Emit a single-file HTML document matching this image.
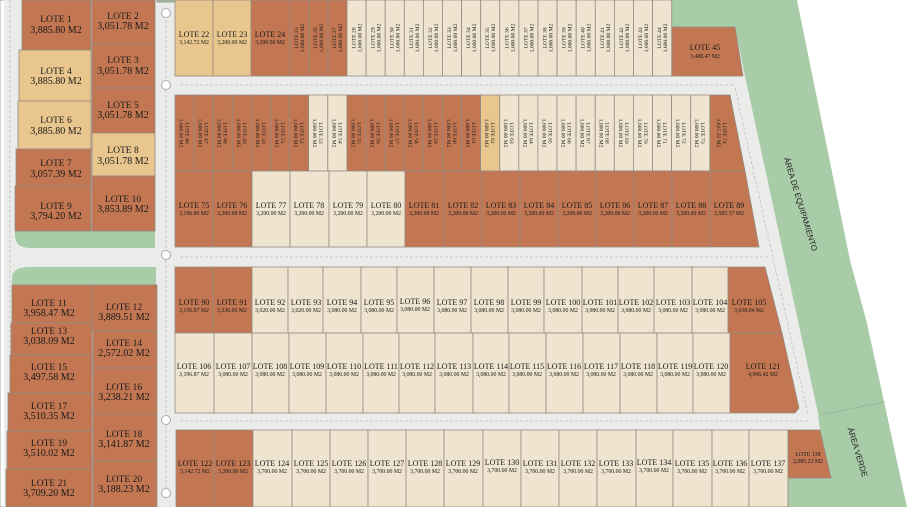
<!DOCTYPE html>
<html><head><meta charset="utf-8"><style>
html,body{margin:0;padding:0;background:#fff}
svg{display:block}
.T{fill:#c27752}.Y{fill:#e8c68d}.C{fill:#efe4cf}
rect,polygon.l{stroke:#958b82;stroke-width:.8}
text{font-family:"Liberation Serif",serif;fill:#1a1a1a;text-anchor:middle}
.b{font-size:9.5px}.bs{font-size:10px}
.n{font-size:8px}.a{font-size:5.8px}
.v{font-size:5.6px}
</style></head><body>
<svg width="923" height="507" viewBox="0 0 923 507" xmlns="http://www.w3.org/2000/svg">
<rect x="0" y="0" width="923" height="507" fill="#fff" stroke="none"/>
<polygon points="4,0 850,0 850,507 4,507" fill="#ebebe9"/>
<polygon points="672,0 797,0 850,260 867,323 907,507 788,507 788,430 820,430 818,413 745,76 735,27 672,27" fill="#a8cba8"/>
<polygon points="797,0 923,0 923,507 907,507 867,323 850,260" fill="#fff"/>
<!-- dashed road lines -->
<g stroke="#bdbdbb" stroke-width=".8" stroke-dasharray="3,2" fill="none">
<line x1="180" y1="85" x2="735" y2="85"/><line x1="180" y1="257" x2="770" y2="257"/><line x1="180" y1="421" x2="810" y2="421"/>
<line x1="166" y1="20" x2="166" y2="500"/><line x1="10" y1="0" x2="10" y2="507"/>
<line x1="735" y1="88" x2="808" y2="415"/>
</g>
<!-- greens left -->
<path d="M15,231 H155 V248 H30 Q15,248 15,235 Z" fill="#a8cba8"/>
<path d="M12,285 V278 Q12,267 30,267 H156 V285 Z" fill="#a8cba8"/>
<path d="M175,0 H160 V0 Z" fill="#a8cba8"/>
<rect x="157" y="0" width="18" height="2" fill="#a8cba8" stroke="none"/>
<!-- roundabouts -->
<g fill="#fff" stroke="#aaa" stroke-width="1">
<circle cx="166" cy="13" r="4.5"/><circle cx="166" cy="85" r="4.5"/><circle cx="166" cy="255" r="4.5"/><circle cx="166" cy="420" r="4.5"/><circle cx="166" cy="493" r="4.5"/>
</g>
<!-- LEFT COLUMN -->
<g>
<rect class="T" x="22" y="0" width="69" height="50"/><text class="b" x="56" y="22">LOTE 1</text><text class="bs" x="56" y="33">3,885.80 M2</text>
<rect class="T" x="92" y="0" width="63" height="44"/><text class="b" x="123" y="19">LOTE 2</text><text class="bs" x="123" y="29">3,051.78 M2</text>
<rect class="T" x="92" y="44" width="63" height="44"/><text class="b" x="123" y="63">LOTE 3</text><text class="bs" x="123" y="74">3,051.78 M2</text>
<rect class="Y" x="19" y="50" width="72" height="51"/><text class="b" x="56" y="74">LOTE 4</text><text class="bs" x="56" y="84">3,885.80 M2</text>
<rect class="T" x="92" y="88" width="63" height="45"/><text class="b" x="123" y="108">LOTE 5</text><text class="bs" x="123" y="118">3,051.78 M2</text>
<rect class="Y" x="18" y="101" width="73" height="48"/><text class="b" x="56" y="123">LOTE 6</text><text class="bs" x="56" y="134">3,885.80 M2</text>
<rect class="Y" x="92" y="133" width="63" height="43"/><text class="b" x="123" y="153">LOTE 8</text><text class="bs" x="123" y="164">3,051.78 M2</text>
<rect class="T" x="16" y="149" width="75" height="37"/><text class="b" x="56" y="166">LOTE 7</text><text class="bs" x="56" y="177">3,057.39 M2</text>
<rect class="T" x="15" y="186" width="76" height="45"/><text class="b" x="56" y="209">LOTE 9</text><text class="bs" x="56" y="219">3,794.20 M2</text>
<rect class="T" x="92" y="176" width="63" height="55"/><text class="b" x="123" y="202">LOTE 10</text><text class="bs" x="123" y="212">3,853.89 M2</text>

<rect class="T" x="12" y="285" width="80" height="38"/><text class="b" x="49" y="306">LOTE 11</text><text class="bs" x="49" y="316">3,958.47 M2</text>
<rect class="T" x="92" y="285" width="65" height="46"/><text class="b" x="124" y="310">LOTE 12</text><text class="bs" x="124" y="320">3,889.51 M2</text>
<rect class="T" x="11" y="323" width="81" height="32"/><text class="b" x="49" y="334">LOTE 13</text><text class="bs" x="49" y="344">3,038.09 M2</text>
<rect class="T" x="93" y="331" width="64" height="37"/><text class="b" x="124" y="346">LOTE 14</text><text class="bs" x="124" y="356">2,572.02 M2</text>
<rect class="T" x="10" y="355" width="82" height="38"/><text class="b" x="49" y="370">LOTE 15</text><text class="bs" x="49" y="380">3,497.58 M2</text>
<rect class="T" x="93" y="368" width="64" height="46"/><text class="b" x="124" y="390">LOTE 16</text><text class="bs" x="124" y="400">3,238.21 M2</text>
<rect class="T" x="8" y="393" width="84" height="38"/><text class="b" x="49" y="409">LOTE 17</text><text class="bs" x="49" y="419">3,510.35 M2</text>
<rect class="T" x="93" y="414" width="64" height="47"/><text class="b" x="124" y="437">LOTE 18</text><text class="bs" x="124" y="447">3,141.87 M2</text>
<rect class="T" x="7" y="431" width="85" height="38"/><text class="b" x="49" y="446">LOTE 19</text><text class="bs" x="49" y="456">3,510.02 M2</text>
<rect class="T" x="93" y="461" width="64" height="46"/><text class="b" x="124" y="482">LOTE 20</text><text class="bs" x="124" y="492">3,188.23 M2</text>
<rect class="T" x="6" y="469" width="86" height="38"/><text class="b" x="49" y="486">LOTE 21</text><text class="bs" x="49" y="496">3,709.20 M2</text>
</g>
<!-- TOP ROW -->
<g>
<rect class="Y" x="175" y="0" width="38" height="76"/><text class="n" x="194" y="37">LOTE 22</text><text class="a" x="194" y="44">3,142.72 M2</text>
<rect class="Y" x="213" y="0" width="38" height="76"/><text class="n" x="232" y="37">LOTE 23</text><text class="a" x="232" y="44">3,200.00 M2</text>
<rect class="T" x="251" y="0" width="39" height="76"/><text class="n" x="270" y="37">LOTE 24</text><text class="a" x="270" y="44">3,200.00 M2</text>
<rect class="T" x="290" y="0" width="19" height="76"/><rect class="T" x="309" y="0" width="19" height="76"/><rect class="T" x="328" y="0" width="19" height="76"/>
<rect class="C" x="347" y="0" width="19.1" height="76"/><rect class="C" x="366.1" y="0" width="19.1" height="76"/><rect class="C" x="385.2" y="0" width="19.1" height="76"/><rect class="C" x="404.3" y="0" width="19.1" height="76"/><rect class="C" x="423.4" y="0" width="19.1" height="76"/><rect class="C" x="442.5" y="0" width="19.1" height="76"/><rect class="C" x="461.6" y="0" width="19.1" height="76"/><rect class="C" x="480.7" y="0" width="19.1" height="76"/><rect class="C" x="499.8" y="0" width="19.1" height="76"/><rect class="C" x="518.9" y="0" width="19.1" height="76"/><rect class="C" x="538" y="0" width="19.1" height="76"/><rect class="C" x="557.1" y="0" width="19.1" height="76"/><rect class="C" x="576.2" y="0" width="19.1" height="76"/><rect class="C" x="595.3" y="0" width="19.1" height="76"/><rect class="C" x="614.4" y="0" width="19.1" height="76"/><rect class="C" x="633.5" y="0" width="19.1" height="76"/><rect class="C" x="652.6" y="0" width="19.1" height="76"/>
<polygon class="T l" points="672,27 735,27 743,76 672,76"/><text class="n" x="705" y="50">LOTE 45</text><text class="a" x="705" y="58">3,488.47 M2</text>
</g>
<g class="v">
<text transform="translate(299,38) rotate(-90)"><tspan x="0" y="-1">LOTE 25</tspan><tspan x="0" y="5">1,600.00 M2</tspan></text>
<text transform="translate(318,38) rotate(-90)"><tspan x="0" y="-1">LOTE 26</tspan><tspan x="0" y="5">1,600.00 M2</tspan></text>
<text transform="translate(337,38) rotate(-90)"><tspan x="0" y="-1">LOTE 27</tspan><tspan x="0" y="5">1,600.00 M2</tspan></text>
<text transform="translate(356.5,38) rotate(-90)"><tspan x="0" y="-1">LOTE 28</tspan><tspan x="0" y="5">1,600.00 M2</tspan></text>
<text transform="translate(375.6,38) rotate(-90)"><tspan x="0" y="-1">LOTE 29</tspan><tspan x="0" y="5">1,600.00 M2</tspan></text>
<text transform="translate(394.7,38) rotate(-90)"><tspan x="0" y="-1">LOTE 30</tspan><tspan x="0" y="5">1,600.00 M2</tspan></text>
<text transform="translate(413.8,38) rotate(-90)"><tspan x="0" y="-1">LOTE 31</tspan><tspan x="0" y="5">1,600.00 M2</tspan></text>
<text transform="translate(432.9,38) rotate(-90)"><tspan x="0" y="-1">LOTE 32</tspan><tspan x="0" y="5">1,600.00 M2</tspan></text>
<text transform="translate(452,38) rotate(-90)"><tspan x="0" y="-1">LOTE 33</tspan><tspan x="0" y="5">1,600.00 M2</tspan></text>
<text transform="translate(471.1,38) rotate(-90)"><tspan x="0" y="-1">LOTE 34</tspan><tspan x="0" y="5">1,600.00 M2</tspan></text>
<text transform="translate(490.2,38) rotate(-90)"><tspan x="0" y="-1">LOTE 35</tspan><tspan x="0" y="5">1,600.00 M2</tspan></text>
<text transform="translate(509.3,38) rotate(-90)"><tspan x="0" y="-1">LOTE 36</tspan><tspan x="0" y="5">1,600.00 M2</tspan></text>
<text transform="translate(528.4,38) rotate(-90)"><tspan x="0" y="-1">LOTE 37</tspan><tspan x="0" y="5">1,600.00 M2</tspan></text>
<text transform="translate(547.5,38) rotate(-90)"><tspan x="0" y="-1">LOTE 38</tspan><tspan x="0" y="5">1,600.00 M2</tspan></text>
<text transform="translate(566.6,38) rotate(-90)"><tspan x="0" y="-1">LOTE 39</tspan><tspan x="0" y="5">1,600.00 M2</tspan></text>
<text transform="translate(585.7,38) rotate(-90)"><tspan x="0" y="-1">LOTE 40</tspan><tspan x="0" y="5">1,600.00 M2</tspan></text>
<text transform="translate(604.8,38) rotate(-90)"><tspan x="0" y="-1">LOTE 41</tspan><tspan x="0" y="5">1,600.00 M2</tspan></text>
<text transform="translate(623.9,38) rotate(-90)"><tspan x="0" y="-1">LOTE 42</tspan><tspan x="0" y="5">1,600.00 M2</tspan></text>
<text transform="translate(643,38) rotate(-90)"><tspan x="0" y="-1">LOTE 43</tspan><tspan x="0" y="5">1,600.00 M2</tspan></text>
<text transform="translate(662.1,38) rotate(-90)"><tspan x="0" y="-1">LOTE 44</tspan><tspan x="0" y="5">1,600.00 M2</tspan></text>
</g>
<!-- BLOCK 2 upper -->
<g>
<rect class="T" x="175" y="95" width="19.1" height="76"/><rect class="T" x="194.1" y="95" width="19.1" height="76"/><rect class="T" x="213.2" y="95" width="19.1" height="76"/><rect class="T" x="232.3" y="95" width="19.1" height="76"/><rect class="T" x="251.4" y="95" width="19.1" height="76"/><rect class="T" x="270.5" y="95" width="19.1" height="76"/><rect class="T" x="289.6" y="95" width="19.1" height="76"/>
<rect class="C" x="308.7" y="95" width="19.1" height="76"/><rect class="C" x="327.8" y="95" width="19.1" height="76"/>
<rect class="T" x="346.9" y="95" width="19.1" height="76"/><rect class="T" x="366" y="95" width="19.1" height="76"/><rect class="T" x="385.1" y="95" width="19.1" height="76"/><rect class="T" x="404.2" y="95" width="19.1" height="76"/><rect class="T" x="423.3" y="95" width="19.1" height="76"/><rect class="T" x="442.4" y="95" width="19.1" height="76"/><rect class="T" x="461.5" y="95" width="19.1" height="76"/>
<rect class="Y" x="480.6" y="95" width="19.1" height="76"/>
<rect class="C" x="499.7" y="95" width="19.1" height="76"/><rect class="C" x="518.8" y="95" width="19.1" height="76"/><rect class="C" x="537.9" y="95" width="19.1" height="76"/><rect class="C" x="557" y="95" width="19.1" height="76"/><rect class="C" x="576.1" y="95" width="19.1" height="76"/><rect class="C" x="595.2" y="95" width="19.1" height="76"/><rect class="C" x="614.3" y="95" width="19.1" height="76"/><rect class="C" x="633.4" y="95" width="19.1" height="76"/><rect class="C" x="652.5" y="95" width="19.1" height="76"/><rect class="C" x="671.6" y="95" width="19.1" height="76"/><rect class="C" x="690.7" y="95" width="19.1" height="76"/>
<polygon class="T l" points="710,95 730,95 745,171 710,171"/>
</g>
<g class="v">
<text transform="translate(184.5,133) rotate(90)"><tspan x="0" y="-1">LOTE 46</tspan><tspan x="0" y="5">1,600.00 M2</tspan></text>
<text transform="translate(203.6,133) rotate(90)"><tspan x="0" y="-1">LOTE 47</tspan><tspan x="0" y="5">1,600.00 M2</tspan></text>
<text transform="translate(222.7,133) rotate(90)"><tspan x="0" y="-1">LOTE 48</tspan><tspan x="0" y="5">1,600.00 M2</tspan></text>
<text transform="translate(241.8,133) rotate(90)"><tspan x="0" y="-1">LOTE 49</tspan><tspan x="0" y="5">1,600.00 M2</tspan></text>
<text transform="translate(260.9,133) rotate(90)"><tspan x="0" y="-1">LOTE 50</tspan><tspan x="0" y="5">1,600.00 M2</tspan></text>
<text transform="translate(280,133) rotate(90)"><tspan x="0" y="-1">LOTE 51</tspan><tspan x="0" y="5">1,600.00 M2</tspan></text>
<text transform="translate(299.1,133) rotate(90)"><tspan x="0" y="-1">LOTE 52</tspan><tspan x="0" y="5">1,600.00 M2</tspan></text>
<text transform="translate(318.2,133) rotate(90)"><tspan x="0" y="-1">LOTE 53</tspan><tspan x="0" y="5">1,600.00 M2</tspan></text>
<text transform="translate(337.3,133) rotate(90)"><tspan x="0" y="-1">LOTE 54</tspan><tspan x="0" y="5">1,600.00 M2</tspan></text>
<text transform="translate(356.4,133) rotate(90)"><tspan x="0" y="-1">LOTE 55</tspan><tspan x="0" y="5">1,600.00 M2</tspan></text>
<text transform="translate(375.5,133) rotate(90)"><tspan x="0" y="-1">LOTE 56</tspan><tspan x="0" y="5">1,600.00 M2</tspan></text>
<text transform="translate(394.6,133) rotate(90)"><tspan x="0" y="-1">LOTE 57</tspan><tspan x="0" y="5">1,600.00 M2</tspan></text>
<text transform="translate(413.7,133) rotate(90)"><tspan x="0" y="-1">LOTE 58</tspan><tspan x="0" y="5">1,600.00 M2</tspan></text>
<text transform="translate(432.8,133) rotate(90)"><tspan x="0" y="-1">LOTE 59</tspan><tspan x="0" y="5">1,600.00 M2</tspan></text>
<text transform="translate(451.9,133) rotate(90)"><tspan x="0" y="-1">LOTE 60</tspan><tspan x="0" y="5">1,600.00 M2</tspan></text>
<text transform="translate(471,133) rotate(90)"><tspan x="0" y="-1">LOTE 61</tspan><tspan x="0" y="5">1,600.00 M2</tspan></text>
<text transform="translate(490.1,133) rotate(90)"><tspan x="0" y="-1">LOTE 62</tspan><tspan x="0" y="5">1,600.00 M2</tspan></text>
<text transform="translate(509.2,133) rotate(90)"><tspan x="0" y="-1">LOTE 63</tspan><tspan x="0" y="5">1,600.00 M2</tspan></text>
<text transform="translate(528.3,133) rotate(90)"><tspan x="0" y="-1">LOTE 64</tspan><tspan x="0" y="5">1,600.00 M2</tspan></text>
<text transform="translate(547.4,133) rotate(90)"><tspan x="0" y="-1">LOTE 65</tspan><tspan x="0" y="5">1,600.00 M2</tspan></text>
<text transform="translate(566.5,133) rotate(90)"><tspan x="0" y="-1">LOTE 66</tspan><tspan x="0" y="5">1,600.00 M2</tspan></text>
<text transform="translate(585.6,133) rotate(90)"><tspan x="0" y="-1">LOTE 67</tspan><tspan x="0" y="5">1,600.00 M2</tspan></text>
<text transform="translate(604.7,133) rotate(90)"><tspan x="0" y="-1">LOTE 68</tspan><tspan x="0" y="5">1,600.00 M2</tspan></text>
<text transform="translate(623.8,133) rotate(90)"><tspan x="0" y="-1">LOTE 69</tspan><tspan x="0" y="5">1,600.00 M2</tspan></text>
<text transform="translate(642.9,133) rotate(90)"><tspan x="0" y="-1">LOTE 70</tspan><tspan x="0" y="5">1,600.00 M2</tspan></text>
<text transform="translate(662,133) rotate(90)"><tspan x="0" y="-1">LOTE 71</tspan><tspan x="0" y="5">1,600.00 M2</tspan></text>
<text transform="translate(681.1,133) rotate(90)"><tspan x="0" y="-1">LOTE 72</tspan><tspan x="0" y="5">1,600.00 M2</tspan></text>
<text transform="translate(700.2,133) rotate(90)"><tspan x="0" y="-1">LOTE 73</tspan><tspan x="0" y="5">1,600.00 M2</tspan></text>
<text transform="translate(722,133) rotate(90)"><tspan x="0" y="-1">LOTE 74</tspan><tspan x="0" y="5">1,615.32 M2</tspan></text>
</g>
<!-- BLOCK 2 lower -->
<g>
<rect class="T" x="175" y="171" width="38" height="76"/><text class="n" x="194" y="208">LOTE 75</text><text class="a" x="194" y="215">3,196.89 M2</text>
<rect class="T" x="213" y="171" width="39" height="76"/><text class="n" x="232" y="208">LOTE 76</text><text class="a" x="232" y="215">3,200.00 M2</text>
<rect class="C" x="252" y="171" width="38" height="76"/><text class="n" x="271" y="208">LOTE 77</text><text class="a" x="271" y="215">3,200.00 M2</text>
<rect class="C" x="290" y="171" width="39" height="76"/><text class="n" x="309" y="208">LOTE 78</text><text class="a" x="309" y="215">3,200.00 M2</text>
<rect class="C" x="329" y="171" width="38" height="76"/><text class="n" x="348" y="208">LOTE 79</text><text class="a" x="348" y="215">3,200.00 M2</text>
<rect class="C" x="367" y="171" width="38" height="76"/><text class="n" x="386" y="208">LOTE 80</text><text class="a" x="386" y="215">3,200.00 M2</text>
<rect class="T" x="405" y="171" width="39" height="76"/><text class="n" x="424" y="208">LOTE 81</text><text class="a" x="424" y="215">3,200.00 M2</text>
<rect class="T" x="444" y="171" width="38" height="76"/><text class="n" x="463" y="208">LOTE 82</text><text class="a" x="463" y="215">3,200.00 M2</text>
<rect class="T" x="482" y="171" width="38" height="76"/><text class="n" x="501" y="208">LOTE 83</text><text class="a" x="501" y="215">3,200.00 M2</text>
<rect class="T" x="520" y="171" width="38" height="76"/><text class="n" x="539" y="208">LOTE 84</text><text class="a" x="539" y="215">3,200.00 M2</text>
<rect class="T" x="558" y="171" width="38" height="76"/><text class="n" x="577" y="208">LOTE 85</text><text class="a" x="577" y="215">3,200.00 M2</text>
<rect class="T" x="596" y="171" width="38" height="76"/><text class="n" x="615" y="208">LOTE 86</text><text class="a" x="615" y="215">3,200.00 M2</text>
<rect class="T" x="634" y="171" width="38" height="76"/><text class="n" x="653" y="208">LOTE 87</text><text class="a" x="653" y="215">3,200.00 M2</text>
<rect class="T" x="672" y="171" width="38" height="76"/><text class="n" x="691" y="208">LOTE 88</text><text class="a" x="691" y="215">3,200.00 M2</text>
<polygon class="T l" points="710,171 745,171 759,247 710,247"/><text class="n" x="729" y="208">LOTE 89</text><text class="a" x="729" y="215">3,505.17 M2</text>
</g>
<!-- BLOCK 3 upper -->
<g>
<rect class="T" x="175" y="267" width="38" height="66"/><text class="n" x="194" y="305">LOTE 90</text><text class="a" x="194" y="312">3,156.87 M2</text>
<rect class="T" x="213" y="267" width="39" height="66"/><text class="n" x="232" y="305">LOTE 91</text><text class="a" x="232" y="312">3,230.00 M2</text>
<rect class="C" x="252" y="267" width="36" height="66"/><text class="n" x="270" y="305">LOTE 92</text><text class="a" x="270" y="312">3,020.00 M2</text>
<rect class="C" x="288" y="267" width="35" height="66"/><text class="n" x="306" y="305">LOTE 93</text><text class="a" x="306" y="312">3,020.00 M2</text>
<rect class="C" x="323" y="267" width="38" height="66"/><text class="n" x="342" y="305">LOTE 94</text><text class="a" x="342" y="312">3,080.00 M2</text>
<rect class="C" x="361" y="267" width="36" height="66"/><text class="n" x="379" y="305">LOTE 95</text><text class="a" x="379" y="312">3,080.00 M2</text>
<rect class="C" x="397" y="267" width="37" height="66"/><text class="n" x="415" y="304">LOTE 96</text><text class="a" x="415" y="311">3,080.00 M2</text>
<rect class="C" x="434" y="267" width="37" height="66"/><text class="n" x="452" y="305">LOTE 97</text><text class="a" x="452" y="312">3,080.00 M2</text>
<rect class="C" x="471" y="267" width="37" height="66"/><text class="n" x="489" y="305">LOTE 98</text><text class="a" x="489" y="312">3,080.00 M2</text>
<rect class="C" x="508" y="267" width="36" height="66"/><text class="n" x="526" y="305">LOTE 99</text><text class="a" x="526" y="312">3,080.00 M2</text>
<rect class="C" x="544" y="267" width="38" height="66"/><text class="n" x="563" y="305">LOTE 100</text><text class="a" x="563" y="312">3,080.00 M2</text>
<rect class="C" x="582" y="267" width="36" height="66"/><text class="n" x="600" y="305">LOTE 101</text><text class="a" x="600" y="312">3,080.00 M2</text>
<rect class="C" x="618" y="267" width="36" height="66"/><text class="n" x="636" y="305">LOTE 102</text><text class="a" x="636" y="312">3,080.00 M2</text>
<rect class="C" x="654" y="267" width="38" height="66"/><text class="n" x="673" y="305">LOTE 103</text><text class="a" x="673" y="312">3,080.00 M2</text>
<rect class="C" x="692" y="267" width="36" height="66"/><text class="n" x="710" y="305">LOTE 104</text><text class="a" x="710" y="312">3,080.00 M2</text>
<polygon class="T l" points="728,267 765,267 782,333 728,333"/><text class="n" x="749" y="305">LOTE 105</text><text class="a" x="749" y="312">3,638.04 M2</text>
</g>
<!-- BLOCK 3 lower -->
<g>
<rect class="C" x="175" y="333" width="39" height="80"/><text class="n" x="194" y="369">LOTE 106</text><text class="a" x="194" y="376">3,196.87 M2</text>
<rect class="C" x="214" y="333" width="38" height="80"/><text class="n" x="233" y="369">LOTE 107</text><text class="a" x="233" y="376">3,080.00 M2</text>
<rect class="C" x="252" y="333" width="37" height="80"/><text class="n" x="270" y="369">LOTE 108</text><text class="a" x="270" y="376">3,080.00 M2</text>
<rect class="C" x="289" y="333" width="37" height="80"/><text class="n" x="307" y="369">LOTE 109</text><text class="a" x="307" y="376">3,080.00 M2</text>
<rect class="C" x="326" y="333" width="37" height="80"/><text class="n" x="344" y="369">LOTE 110</text><text class="a" x="344" y="376">3,080.00 M2</text>
<rect class="C" x="363" y="333" width="36" height="80"/><text class="n" x="381" y="369">LOTE 111</text><text class="a" x="381" y="376">3,080.00 M2</text>
<rect class="C" x="399" y="333" width="36" height="80"/><text class="n" x="417" y="369">LOTE 112</text><text class="a" x="417" y="376">3,080.00 M2</text>
<rect class="C" x="435" y="333" width="38" height="80"/><text class="n" x="454" y="369">LOTE 113</text><text class="a" x="454" y="376">3,080.00 M2</text>
<rect class="C" x="473" y="333" width="36" height="80"/><text class="n" x="491" y="369">LOTE 114</text><text class="a" x="491" y="376">3,080.00 M2</text>
<rect class="C" x="509" y="333" width="37" height="80"/><text class="n" x="527" y="369">LOTE 115</text><text class="a" x="527" y="376">3,080.00 M2</text>
<rect class="C" x="546" y="333" width="37" height="80"/><text class="n" x="564" y="369">LOTE 116</text><text class="a" x="564" y="376">3,080.00 M2</text>
<rect class="C" x="583" y="333" width="37" height="80"/><text class="n" x="601" y="369">LOTE 117</text><text class="a" x="601" y="376">3,080.00 M2</text>
<rect class="C" x="620" y="333" width="37" height="80"/><text class="n" x="638" y="369">LOTE 118</text><text class="a" x="638" y="376">3,080.00 M2</text>
<rect class="C" x="657" y="333" width="36" height="80"/><text class="n" x="675" y="369">LOTE 119</text><text class="a" x="675" y="376">3,080.00 M2</text>
<rect class="C" x="693" y="333" width="37" height="80"/><text class="n" x="711" y="369">LOTE 120</text><text class="a" x="711" y="376">3,080.00 M2</text>
<polygon class="T l" points="730,333 782,333 799,408 795,413 730,413"/><text class="n" x="763" y="369">LOTE 121</text><text class="a" x="763" y="376">4,996.42 M2</text>
</g>
<!-- BOTTOM ROW -->
<g>
<rect class="T" x="176" y="430" width="38" height="77"/><text class="n" x="195" y="466">LOTE 122</text><text class="a" x="195" y="473">3,142.72 M2</text>
<rect class="T" x="214" y="430" width="39" height="77"/><text class="n" x="233" y="466">LOTE 123</text><text class="a" x="233" y="473">3,200.00 M2</text>
<rect class="C" x="253" y="430" width="39" height="77"/><text class="n" x="272" y="466">LOTE 124</text><text class="a" x="272" y="473">3,700.00 M2</text>
<rect class="C" x="292" y="430" width="38" height="77"/><text class="n" x="311" y="466">LOTE 125</text><text class="a" x="311" y="473">3,700.00 M2</text>
<rect class="C" x="330" y="430" width="38" height="77"/><text class="n" x="349" y="466">LOTE 126</text><text class="a" x="349" y="473">3,700.00 M2</text>
<rect class="C" x="368" y="430" width="38" height="77"/><text class="n" x="387" y="466">LOTE 127</text><text class="a" x="387" y="473">3,700.00 M2</text>
<rect class="C" x="406" y="430" width="38" height="77"/><text class="n" x="425" y="466">LOTE 128</text><text class="a" x="425" y="473">3,700.00 M2</text>
<rect class="C" x="444" y="430" width="39" height="77"/><text class="n" x="463" y="466">LOTE 129</text><text class="a" x="463" y="473">3,700.00 M2</text>
<rect class="C" x="483" y="430" width="38" height="77"/><text class="n" x="502" y="465">LOTE 130</text><text class="a" x="502" y="472">3,700.00 M2</text>
<rect class="C" x="521" y="430" width="38" height="77"/><text class="n" x="540" y="466">LOTE 131</text><text class="a" x="540" y="473">3,700.00 M2</text>
<rect class="C" x="559" y="430" width="38" height="77"/><text class="n" x="578" y="466">LOTE 132</text><text class="a" x="578" y="473">3,700.00 M2</text>
<rect class="C" x="597" y="430" width="39" height="77"/><text class="n" x="616" y="466">LOTE 133</text><text class="a" x="616" y="473">3,700.00 M2</text>
<rect class="C" x="636" y="430" width="37" height="77"/><text class="n" x="654" y="465">LOTE 134</text><text class="a" x="654" y="472">3,700.00 M2</text>
<rect class="C" x="673" y="430" width="39" height="77"/><text class="n" x="692" y="466">LOTE 135</text><text class="a" x="692" y="473">3,700.00 M2</text>
<rect class="C" x="712" y="430" width="37" height="77"/><text class="n" x="730" y="466">LOTE 136</text><text class="a" x="730" y="473">3,700.00 M2</text>
<rect class="C" x="749" y="430" width="39" height="77"/><text class="n" x="768" y="466">LOTE 137</text><text class="a" x="768" y="473">3,700.00 M2</text>
<polygon class="T l" points="788,430 820,430 831,478 788,478"/><text class="a" x="808" y="456">LOTE 138</text><text class="a" x="808" y="463">2,085.23 M2</text>
</g>
<line x1="820" y1="415" x2="885" y2="402" stroke="#8aa98a" stroke-width=".6"/>
<text transform="translate(798,205) rotate(73)" style="font-family:'Liberation Sans',sans-serif;font-size:8px;fill:#222">ÁREA DE EQUIPAMIENTO</text>
<text transform="translate(855,453) rotate(73)" style="font-family:'Liberation Sans',sans-serif;font-size:8px;fill:#222">ÁREA VERDE</text>
</svg>
</body></html>
